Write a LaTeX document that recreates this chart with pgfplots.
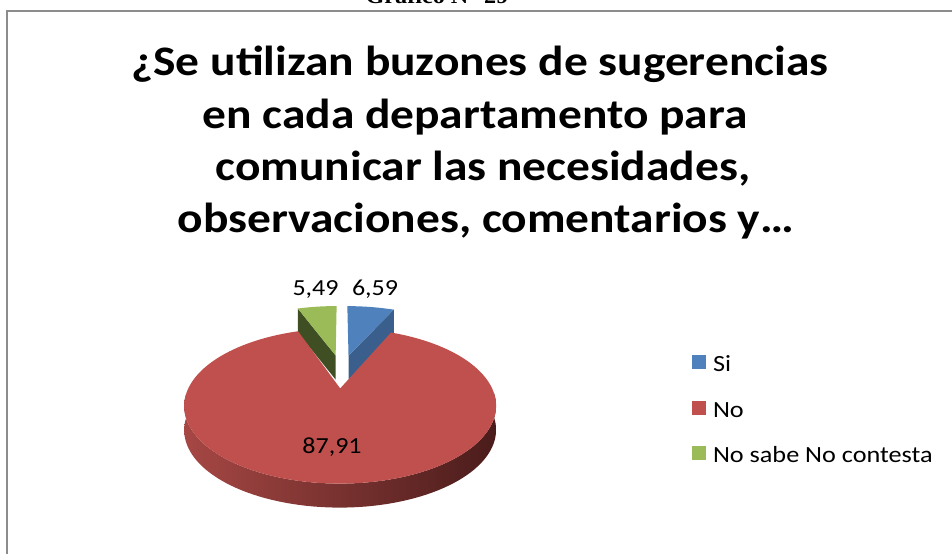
\documentclass[border=0pt]{standalone}
\usepackage{pgfplots}
\pgfplotsset{compat=1.18}
\usepackage{pgfplotstable}
\usepackage{fontspec}
\setmainfont{Carlito}[FakeStretch=1.13]
\newfontfamily\timesfont{Liberation Serif}[FakeStretch=1.1]

\definecolor{siblue}{HTML}{4F81BD}
\definecolor{siblueD}{HTML}{3A5F8C}
\definecolor{nored}{HTML}{C0504D}
\definecolor{noredL}{HTML}{A64744}
\definecolor{noredD}{HTML}{4A1C1B}
\definecolor{nsgreen}{HTML}{9BBB59}
\definecolor{nsgreenD}{HTML}{3F4F23}
\definecolor{framegray}{HTML}{8C8C8C}

\pgfplotstableread{
cat value
Si 6.59
No 87.91
NSNC 5.49
}\piedata

\pgfplotstablegetelem{0}{value}\of\piedata\edef\vSi{\pgfplotsretval}%
\pgfplotstablegetelem{1}{value}\of\piedata\edef\vNo{\pgfplotsretval}%
\pgfplotstablegetelem{2}{value}\of\piedata\edef\vNS{\pgfplotsretval}%
\pgfmathsetmacro\tot{\vSi+\vNo+\vNS}%
\def\dd{0.25}%
\pgfmathsetmacro\aSiA{90}%
\pgfmathsetmacro\aSiB{\aSiA-\vSi/\tot*360}%
\pgfmathsetmacro\aNoB{\aSiB-\vNo/\tot*360}%
\pgfmathsetmacro\aNSB{\aNoB-\vNS/\tot*360}%
\pgfmathsetmacro\bSi{(\aSiA+\aSiB)/2}%
\pgfmathsetmacro\bNo{(\aSiB+\aNoB)/2}%
\pgfmathsetmacro\bNS{(\aNoB+\aNSB)/2}%
\pgfmathsetmacro\sxSi{\dd*cos(\bSi)}\pgfmathsetmacro\sySi{\dd*sin(\bSi)}%
\pgfmathsetmacro\sxNo{\dd*cos(\bNo)}\pgfmathsetmacro\syNo{\dd*sin(\bNo)}%
\pgfmathsetmacro\sxNS{\dd*cos(\bNS)}\pgfmathsetmacro\syNS{\dd*sin(\bNS)}%
\def\dep{24}%
\newcommand\lbl[1]{\pgfmathprintnumber[fixed, fixed zerofill, precision=2, use comma, assume math mode=true]{#1}}

\begin{document}%
\begin{tikzpicture}[declare function={PX(\X,\Y)=341.5+143.8*\X/(1+0.214*\Y); PY(\X,\Y)=182+66*\Y/(1+0.214*\Y);}]
\begin{axis}[name=ax, scale only axis, width=476pt, height=276.5pt,
  xmin=0, xmax=952, ymin=0, ymax=553, hide axis, clip=false,
  legend cell align=left,
  legend image code/.code={\fill[#1] (0pt,-1.5pt) rectangle (7pt,5.5pt);},
  legend style={at={(0.72689,0.35805)}, anchor=north west, draw=none, fill=none,
    inner sep=0pt, outer sep=0pt, row sep=12pt, column sep=3.5pt,
    font=\fontsize{11.6}{13}\selectfont,
    nodes={inner sep=0pt, text height=8pt, text depth=2.5pt}},
]
\addlegendimage{fill=siblue, draw=none}\addlegendentry{Si}
\addlegendimage{fill=nored, draw=none}\addlegendentry{No}
\addlegendimage{fill=nsgreen, draw=none}\addlegendentry{No sabe No contesta}

\coordinate (LL) at (0,0);
\coordinate (UR) at (952,553);

% frame and cut-off caption
\draw[line width=1pt, framegray] (7,-5) -- (7,542) -- (965,542);
\node[anchor=base, font=\timesfont\bfseries\fontsize{11}{13}\selectfont] at (437,549) {Gráfico N° 29};

% Si slice (blue)
\fill[siblueD] ({PX(\sxSi,\sySi)},{PY(\sxSi,\sySi)})
  -- ({PX(\sxSi+cos(\aSiB),\sySi+sin(\aSiB))},{PY(\sxSi+cos(\aSiB),\sySi+sin(\aSiB))})
  -- ({PX(\sxSi+cos(\aSiB),\sySi+sin(\aSiB))},{PY(\sxSi+cos(\aSiB),\sySi+sin(\aSiB))-\dep})
  -- ({PX(\sxSi,\sySi)},{PY(\sxSi,\sySi)-\dep}) -- cycle;
\fill[siblue] ({PX(\sxSi,\sySi)},{PY(\sxSi,\sySi)})
  -- plot[domain=\aSiA:\aSiB, samples=30, variable=\t] ({PX(\sxSi+cos(\t),\sySi+sin(\t))},{PY(\sxSi+cos(\t),\sySi+sin(\t))}) -- cycle;

% NS/NC slice (green)
\fill[nsgreenD] ({PX(\sxNS,\syNS)},{PY(\sxNS,\syNS)})
  -- ({PX(\sxNS+cos(\aNoB),\syNS+sin(\aNoB))},{PY(\sxNS+cos(\aNoB),\syNS+sin(\aNoB))})
  -- ({PX(\sxNS+cos(\aNoB),\syNS+sin(\aNoB))},{PY(\sxNS+cos(\aNoB),\syNS+sin(\aNoB))-\dep})
  -- ({PX(\sxNS,\syNS)},{PY(\sxNS,\syNS)-\dep}) -- cycle;
\fill[nsgreen] ({PX(\sxNS,\syNS)},{PY(\sxNS,\syNS)})
  -- plot[domain=\aNoB:\aNSB, samples=30, variable=\t] ({PX(\sxNS+cos(\t),\syNS+sin(\t))},{PY(\sxNS+cos(\t),\syNS+sin(\t))}) -- cycle;

% No slice (red): side then top
\path[left color=noredL, right color=noredD]
  plot[domain=-4:-176, samples=80, variable=\t] ({PX(\sxNo+cos(\t),\syNo+sin(\t))},{PY(\sxNo+cos(\t),\syNo+sin(\t))})
  -- plot[domain=-176:-4, samples=80, variable=\t] ({PX(\sxNo+cos(\t),\syNo+sin(\t))},{PY(\sxNo+cos(\t),\syNo+sin(\t))-\dep}) -- cycle;
\fill[nored] ({PX(\sxNo,\syNo)},{PY(\sxNo,\syNo)})
  -- plot[domain=\aSiB:\aNoB, samples=160, variable=\t] ({PX(\sxNo+cos(\t),\syNo+sin(\t))},{PY(\sxNo+cos(\t),\syNo+sin(\t))}) -- cycle;

% data labels
\node[anchor=base, font=\fontsize{11.5}{13}\selectfont] at (375,258) {\lbl{\vSi}};
\node[anchor=base, font=\fontsize{11.5}{13}\selectfont] at (315.5,258) {\lbl{\vNS}};
\node[anchor=base, font=\fontsize{11.5}{13}\selectfont] at (332,100) {\lbl{\vNo}};

% title
\node[anchor=base, font=\fontsize{21}{26}\selectfont\bfseries] at (480,478) {¿Se utilizan buzones de sugerencias};
\node[anchor=base, font=\fontsize{21}{26}\selectfont\bfseries] at (475,425) {en cada departamento para};
\node[anchor=base, font=\fontsize{21}{26}\selectfont\bfseries] at (483,373) {comunicar las necesidades,};
\node[anchor=base, font=\fontsize{21}{26}\selectfont\bfseries] at (486,321) {observaciones, comentarios y…};
\end{axis}
\pgfresetboundingbox
\path (LL) rectangle (UR);
\end{tikzpicture}%
\end{document}
